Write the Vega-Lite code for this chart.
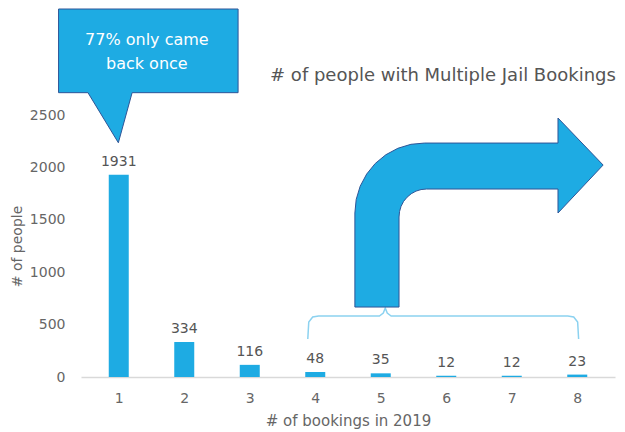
{
  "$schema": "https://vega.github.io/schema/vega-lite/v6.json",
  "autosize": {"type": "none"},
  "padding": {"left": 81, "top": 0, "right": 10, "bottom": 55},
  "width": 534,
  "height": 377,
  "background": "white",
  "config": {"font": "DejaVu Sans", "view": {"stroke": null}},
  "datasets": {
    "bars": [
      {"bookings": 1, "people": 1931},
      {"bookings": 2, "people": 334},
      {"bookings": 3, "people": 116},
      {"bookings": 4, "people": 48},
      {"bookings": 5, "people": 35},
      {"bookings": 6, "people": 12},
      {"bookings": 7, "people": 12},
      {"bookings": 8, "people": 23}
    ],
    "arrow": [
      {"i": 1, "bookings": 4.605, "people": 668},
      {"i": 2, "bookings": 4.605, "people": 1566},
      {"i": 3, "bookings": 4.625, "people": 1696},
      {"i": 4, "bookings": 4.686, "people": 1822},
      {"i": 5, "bookings": 4.785, "people": 1938},
      {"i": 6, "bookings": 4.916, "people": 2039},
      {"i": 7, "bookings": 5.077, "people": 2122},
      {"i": 8, "bookings": 5.261, "people": 2184},
      {"i": 9, "bookings": 5.461, "people": 2222},
      {"i": 10, "bookings": 5.669, "people": 2234},
      {"i": 11, "bookings": 7.706, "people": 2234},
      {"i": 12, "bookings": 7.706, "people": 2473},
      {"i": 13, "bookings": 8.395, "people": 2024},
      {"i": 14, "bookings": 7.706, "people": 1566},
      {"i": 15, "bookings": 7.706, "people": 1795},
      {"i": 16, "bookings": 5.699, "people": 1795},
      {"i": 17, "bookings": 5.616, "people": 1790},
      {"i": 18, "bookings": 5.538, "people": 1775},
      {"i": 19, "bookings": 5.465, "people": 1750},
      {"i": 20, "bookings": 5.402, "people": 1717},
      {"i": 21, "bookings": 5.349, "people": 1677},
      {"i": 22, "bookings": 5.310, "people": 1630},
      {"i": 23, "bookings": 5.287, "people": 1580},
      {"i": 24, "bookings": 5.279, "people": 1528},
      {"i": 25, "bookings": 5.279, "people": 668},
      {"i": 26, "bookings": 4.605, "people": 668}
    ],
    "callout": [
      {"i": 1, "bookings": 0.081, "people": 3514},
      {"i": 2, "bookings": 2.822, "people": 3514},
      {"i": 3, "bookings": 2.822, "people": 2715},
      {"i": 4, "bookings": 1.204, "people": 2715},
      {"i": 5, "bookings": 0.994, "people": 2237},
      {"i": 6, "bookings": 0.530, "people": 2715},
      {"i": 7, "bookings": 0.081, "people": 2715},
      {"i": 8, "bookings": 0.081, "people": 3514}
    ],
    "brace": [
      {"i": 1, "bookings": 3.886, "people": 363},
      {"i": 2, "bookings": 3.901, "people": 525},
      {"i": 3, "bookings": 3.961, "people": 573},
      {"i": 4, "bookings": 4.051, "people": 582},
      {"i": 5, "bookings": 4.979, "people": 582},
      {"i": 6, "bookings": 5.039, "people": 611},
      {"i": 7, "bookings": 5.069, "people": 659},
      {"i": 8, "bookings": 5.099, "people": 611},
      {"i": 9, "bookings": 5.159, "people": 582},
      {"i": 10, "bookings": 7.856, "people": 582},
      {"i": 11, "bookings": 7.946, "people": 573},
      {"i": 12, "bookings": 8.006, "people": 525},
      {"i": 13, "bookings": 8.021, "people": 363}
    ],
    "notes": [
      {"bookings": 1.429, "people": 3218, "label": "77% only came"},
      {"bookings": 1.429, "people": 2989, "label": "back once"}
    ],
    "heading": [
      {"bookings": 8.59, "people": 2874, "label": "# of people with Multiple Jail Bookings"}
    ]
  },
  "layer": [
    {
      "data": {"name": "bars"},
      "mark": {"type": "bar", "size": 20, "color": "#1eabe3"},
      "encoding": {
        "x": {
          "field": "bookings", "type": "quantitative", "title": "# of bookings in 2019",
          "scale": {"domain": [0.5, 8.5], "nice": false, "zero": false},
          "axis": {
            "values": [1, 2, 3, 4, 5, 6, 7, 8], "format": "d",
            "grid": false, "ticks": false, "domainColor": "#d9d9d9", "domainWidth": 1.5,
            "labelColor": "#666666", "labelFontSize": 14, "labelPadding": 14,
            "titleColor": "#666666", "titleFontSize": 15, "titleFontWeight": "normal", "titlePadding": 8
          }
        },
        "y": {
          "field": "people", "type": "quantitative", "title": "# of people",
          "scale": {"domain": [0, 3600], "nice": false},
          "axis": {
            "values": [0, 500, 1000, 1500, 2000, 2500], "format": "d",
            "grid": false, "ticks": false, "domain": false,
            "labelColor": "#666666", "labelFontSize": 14, "labelPadding": 16,
            "titleColor": "#666666", "titleFontSize": 14, "titleFontWeight": "normal",
            "titleX": -64, "titleY": 246, "titleBaseline": "middle"
          }
        }
      }
    },
    {
      "data": {"name": "bars"},
      "mark": {"type": "text", "baseline": "bottom", "dy": -6, "fontSize": 14, "color": "#555555"},
      "encoding": {
        "x": {"field": "bookings", "type": "quantitative", "title": "# of bookings in 2019"},
        "y": {"field": "people", "type": "quantitative", "title": "# of people"},
        "text": {"field": "people", "type": "quantitative", "format": "d"}
      }
    },
    {
      "data": {"name": "brace"},
      "mark": {"type": "line", "stroke": "#8cd2f0", "strokeWidth": 1.5},
      "encoding": {
        "x": {"field": "bookings", "type": "quantitative", "title": "# of bookings in 2019"},
        "y": {"field": "people", "type": "quantitative", "title": "# of people"},
        "order": {"field": "i", "type": "quantitative"}
      }
    },
    {
      "data": {"name": "arrow"},
      "mark": {"type": "line", "fill": "#1eabe3", "stroke": "#2f5597", "strokeWidth": 1, "strokeJoin": "miter"},
      "encoding": {
        "x": {"field": "bookings", "type": "quantitative", "title": "# of bookings in 2019"},
        "y": {"field": "people", "type": "quantitative", "title": "# of people"},
        "order": {"field": "i", "type": "quantitative"}
      }
    },
    {
      "data": {"name": "callout"},
      "mark": {"type": "line", "fill": "#1eabe3", "stroke": "#2f5597", "strokeWidth": 1, "strokeJoin": "miter"},
      "encoding": {
        "x": {"field": "bookings", "type": "quantitative", "title": "# of bookings in 2019"},
        "y": {"field": "people", "type": "quantitative", "title": "# of people"},
        "order": {"field": "i", "type": "quantitative"}
      }
    },
    {
      "data": {"name": "notes"},
      "mark": {"type": "text", "align": "center", "baseline": "middle", "fontSize": 16, "color": "white"},
      "encoding": {
        "x": {"field": "bookings", "type": "quantitative", "title": "# of bookings in 2019"},
        "y": {"field": "people", "type": "quantitative", "title": "# of people"},
        "text": {"field": "label"}
      }
    },
    {
      "data": {"name": "heading"},
      "mark": {"type": "text", "align": "right", "baseline": "middle", "fontSize": 18, "color": "#555555"},
      "encoding": {
        "x": {"field": "bookings", "type": "quantitative", "title": "# of bookings in 2019"},
        "y": {"field": "people", "type": "quantitative", "title": "# of people"},
        "text": {"field": "label"}
      }
    }
  ]
}
